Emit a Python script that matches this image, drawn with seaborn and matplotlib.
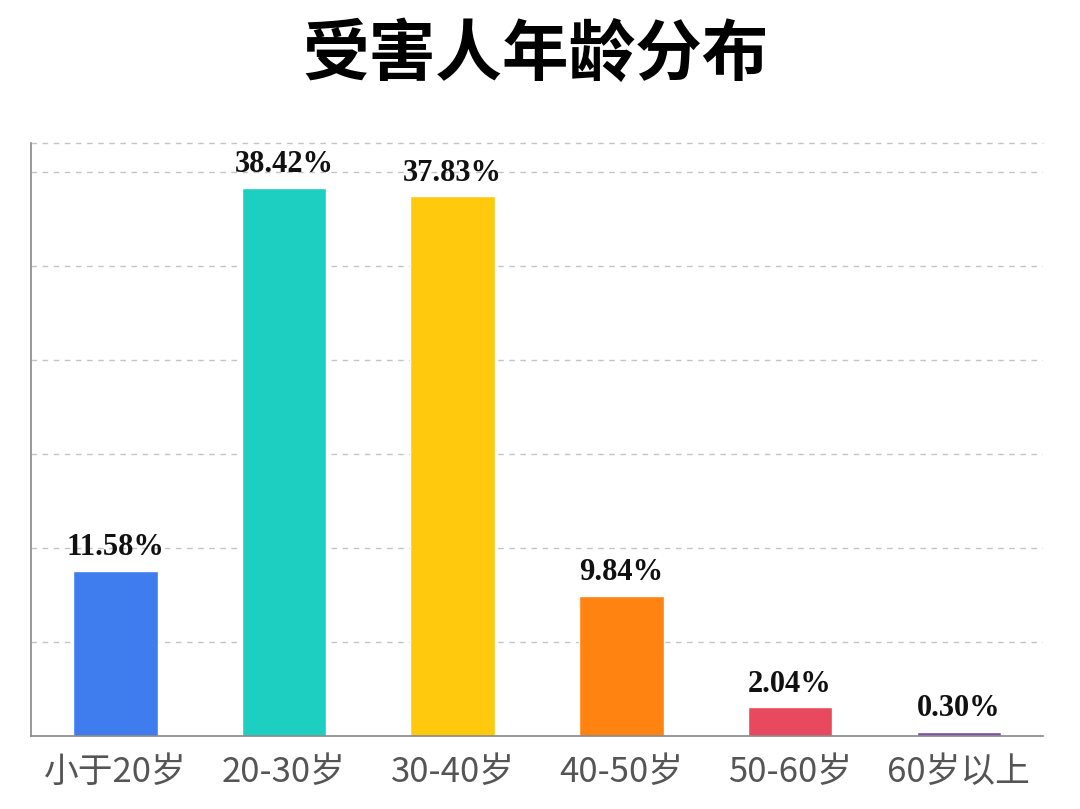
import matplotlib
matplotlib.use("Agg")
import matplotlib.pyplot as plt
import seaborn as sns
import pandas as pd
import numpy as np

categories = ["小于20岁", "20-30岁", "30-40岁", "40-50岁", "50-60岁", "60岁以上"]
values = [11.58, 38.42, 37.83, 9.84, 2.04, 0.30]
labels = ["11.58%", "38.42%", "37.83%", "9.84%", "2.04%", "0.30%"]
colors = ["#3F7CEE", "#1DCFC0", "#FFC90E", "#FF8310", "#E8495F", "#7B4FA8"]
title = "受害人年龄分布"

sns.set_theme(style="white")
plt.rcParams['font.family'] = ['Noto Sans CJK SC', 'DejaVu Sans']

df = pd.DataFrame({"cat": categories, "val": values})

fig = plt.figure(figsize=(10.8, 8.09), dpi=100)
ax = fig.add_axes([31/1080, 73/809, 1012/1080, 593/809])

sns.barplot(data=df, x="cat", y="val", hue="cat", palette=colors, legend=False,
            width=0.5, saturation=1, ax=ax)

ymax = 41.55
step = 6.587
ax.set_ylim(0, ymax)
ax.set_xlim(-0.5, len(categories) - 0.5)
ax.set_yticks(np.arange(1, 7) * step)
ax.yaxis.grid(True, linestyle=(0, (4, 4)), color="#C4C4C4", linewidth=1)
ax.axhline(ymax, linestyle=(0, (4, 4)), color="#C4C4C4", linewidth=1, clip_on=False)
ax.set_axisbelow(True)
ax.tick_params(axis="y", left=False, labelleft=False)
ax.tick_params(axis="x", bottom=False, labelsize=25, labelcolor="#555555", pad=8)
for t in ax.get_xticklabels():
    t.set_fontweight("light")
ax.set_xlabel("")
ax.set_ylabel("")
for s in ["top", "right"]:
    ax.spines[s].set_visible(False)
ax.spines["left"].set_color("#888888")
ax.spines["bottom"].set_color("#888888")
ax.spines["left"].set_linewidth(1.2)
ax.spines["bottom"].set_linewidth(1.2)

for i, (v, lab) in enumerate(zip(values, labels)):
    ax.annotate(lab, (i, v), xytext=(0, 6), textcoords="offset points",
                ha="center", va="bottom", fontsize=22, fontweight="bold",
                family=["Liberation Serif", "DejaVu Serif"], color="#111111")

fig.text(0.496, 1 - 55/809, title, ha="center", va="center", fontsize=48,
         fontweight="heavy", color="#000000")

fig.savefig("out.png", dpi=100, facecolor="white")
